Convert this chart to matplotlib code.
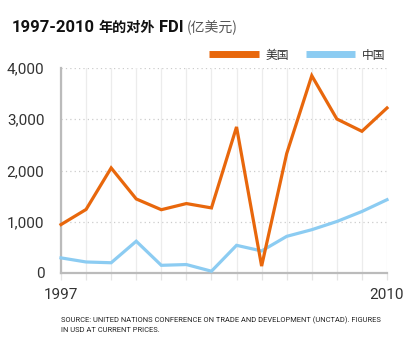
import matplotlib
matplotlib.use("Agg")
import matplotlib.pyplot as plt

plt.rcParams['font.family'] = ['Roboto', 'Noto Sans CJK SC', 'DejaVu Sans']

# ── data ─────────────────────────────────────────────────────────────────────
years = list(range(1997, 2011))
usa = [945, 1240, 2050, 1445, 1235, 1355, 1270, 2850, 135, 2330,
       3850, 3005, 2765, 3220]
china = [295, 215, 200, 620, 150, 165, 35, 540, 430, 715,
         845, 1005, 1200, 1430]
series_names = ["美国", "中国"]
yticks = [0, 1000, 2000, 3000, 4000]

ORANGE = "#E8670C"
BLUE = "#8CCCF2"
GRID = "#cccccc"
TEXT = "#333333"

fig = plt.figure(figsize=(4.2, 3.53), dpi=100)
ax = fig.add_axes([61 / 420, 80 / 353, 326 / 420, 205 / 353])

l1, = ax.plot(years, usa, color=ORANGE, lw=2.3, clip_on=False, zorder=4,
              solid_joinstyle="miter")
l2, = ax.plot(years, china, color=BLUE, lw=2.3, clip_on=False, zorder=3,
              solid_joinstyle="miter")

ax.set_xlim(years[0], years[-1])
ax.set_ylim(0, 4000)

# horizontal dotted grid
for v in yticks[1:]:
    ax.axhline(v, color=GRID, lw=0.9, ls=(0, (1, 2.5)), zorder=1)
# vertical faint grid at every year
ax.set_xticks(years)
ax.xaxis.grid(True, color="#ececec", lw=0.9, zorder=0)
ax.tick_params(axis="x", length=5, color="#e4e4e4", width=0.9,
               labelbottom=False)

ax.set_yticks(yticks)
ax.set_yticklabels([f"{v:,}" for v in yticks])
ax.tick_params(axis="y", length=0, pad=12, labelsize=11, labelcolor=TEXT)

for s in ["top", "right"]:
    ax.spines[s].set_visible(False)
ax.spines["left"].set_color("#bbbbbb")
ax.spines["left"].set_linewidth(1.6)
ax.spines["bottom"].set_color("#bbbbbb")
ax.spines["bottom"].set_linewidth(1.6)
ax.spines["left"].set_bounds(0, 4000)

# end-year labels
for yr in (years[0], years[-1]):
    ax.text(yr, -(295 - 273) / 205, str(yr), ha="center", va="center",
            fontsize=11, color=TEXT, transform=ax.get_xaxis_transform())

# legend
leg = fig.legend([l1, l2], series_names, loc="center left",
                 bbox_to_anchor=(209 / 420, 1 - 55 / 353), ncol=2,
                 frameon=False, handlelength=4.2, handletextpad=0.6,
                 columnspacing=1.4, borderaxespad=0, borderpad=0,
                 prop={"family": ["Noto Sans CJK SC"], "size": 8.5})
for t in leg.get_texts():
    t.set_color(TEXT)
for h in leg.legend_handles:
    h.set_linewidth(5)
    h.set_solid_capstyle("butt")

# title, built from pieces so the CJK glyphs can be smaller than the digits
fig.canvas.draw()
title_parts = [
    ("1997-2010", 12, "bold", "#111111", ["Roboto"], 0),
    ("年的对外", 10.2, "bold", "#111111", ["Noto Sans CJK SC"], 3),
    ("FDI", 12, "bold", "#111111", ["Roboto"], 4),
    ("(亿美元)", 10, "normal", "#555555", ["Noto Sans CJK SC"], 4),
]
x = 12
for txt, size, weight, col, fam, gap in title_parts:
    x += gap
    t = fig.text(x / 420, 1 - 28 / 353, txt, ha="left", va="center",
                 fontsize=size, fontweight=weight, color=col, family=fam)
    x = t.get_window_extent(renderer=fig.canvas.get_renderer()).x1

# source note
fig.text(61 / 420, 1 - 320 / 353,
         "SOURCE: UNITED NATIONS CONFERENCE ON TRADE AND DEVELOPMENT (UNCTAD). FIGURES",
         ha="left", va="center", fontsize=5.4, color="#222222")
fig.text(61 / 420, 1 - 331 / 353, "IN USD AT CURRENT PRICES.",
         ha="left", va="center", fontsize=5.4, color="#222222")

fig.savefig("out.png", dpi=100)
